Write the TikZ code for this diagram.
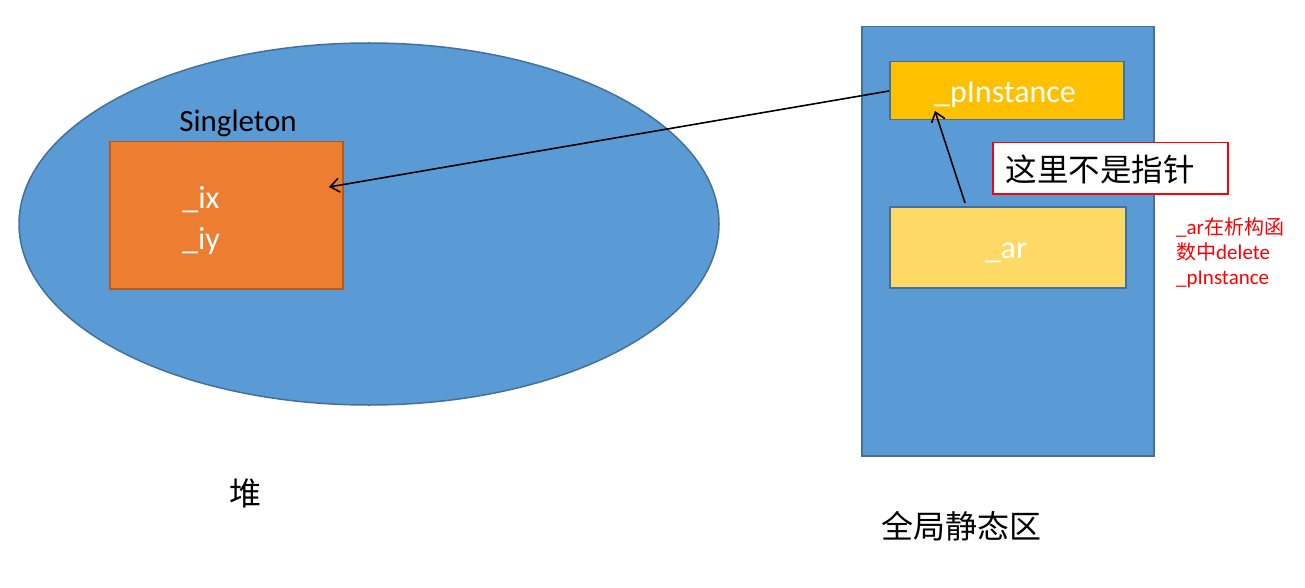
\documentclass[tikz,border=0pt]{standalone}
\usepackage{fontspec}
\setmainfont{Carlito}
\newfontfamily\cjk{Noto Sans CJK SC}
\usetikzlibrary{arrows.meta,shapes.geometric}
\definecolor{sblue}{HTML}{5B9BD5}
\definecolor{sblueline}{HTML}{41719C}
\definecolor{sorange}{HTML}{ED7D31}
\definecolor{sorangeline}{HTML}{AE5A21}
\definecolor{sgold}{HTML}{FFC000}
\definecolor{slightgold}{HTML}{FFD966}
\tikzset{
  box/.style={draw=sblueline, line width=1.5pt, inner sep=0pt},
  lbl/.style={font=\fontsize{32}{36}\selectfont, text=white},
  ptr/.style={draw=black, line width=1.6pt, -{Straight Barb[length=9pt,width=14pt,line width=1.6pt]}},
}
\begin{document}
\begin{tikzpicture}[x=1pt,y=-1pt]
\useasboundingbox (0,0) rectangle (1305,588);
% heap ellipse
\node[box, ellipse, fill=sblue, minimum width=700, minimum height=362] (heap) at (369,224) {};
\node[box, draw=sorangeline, fill=sorange, minimum width=233, minimum height=147, anchor=north west] (obj) at (109,141) {};
\node[font=\fontsize{31}{36}\selectfont, anchor=base] (single) at (238,132) {Singleton};
\node[lbl, align=center, anchor=north, inner sep=0pt, font=\fontsize{32}{41}\selectfont] (fields) at (201,186) {\_ix\\\_iy};
\coordinate (objtip) at (329,187);
% static area
\node[box, fill=sblue, minimum width=292, minimum height=429, anchor=north west] (static) at (861,26) {};
\node[box, fill=sgold, minimum width=234, minimum height=58, anchor=north west] (pinst) at (889,61) {};
\node[lbl, anchor=base] at (1005,103) {\_pInstance};
\node[box, fill=slightgold, minimum width=236, minimum height=81, anchor=north west] (ar) at (889,206) {};
\node[lbl, anchor=base] at (1006,258) {\_ar};
\node[draw=red, line width=1.5pt, fill=white, minimum width=235, minimum height=51, anchor=north west, inner sep=0pt] (note) at (992,142) {};
\node[font=\cjk\fontsize{31.5}{34}\selectfont] at (1100,169) {这里不是指针};
\node[font=\fontsize{21}{25}\selectfont, text=red, align=left, anchor=north west, inner sep=0pt] (rnote) at (1176,217) {\_ar{\cjk\fontsize{20}{25}\selectfont 在析构函}\\{\cjk\fontsize{20}{25}\selectfont 数中}delete\\\_pInstance};
\coordinate (pfrom) at (889,91);
\coordinate (arfrom) at (965,203);
\coordinate (ptip) at (935,111);
\draw[ptr] (pfrom) -- (objtip);
\draw[ptr] (arfrom) -- (ptip);
% captions
\node[font=\cjk\fontsize{32}{34}\selectfont] (heapcap) at (245,493) {堆};
\node[font=\cjk\fontsize{32}{34}\selectfont] (staticcap) at (961,526) {全局静态区};
\end{tikzpicture}
\end{document}
